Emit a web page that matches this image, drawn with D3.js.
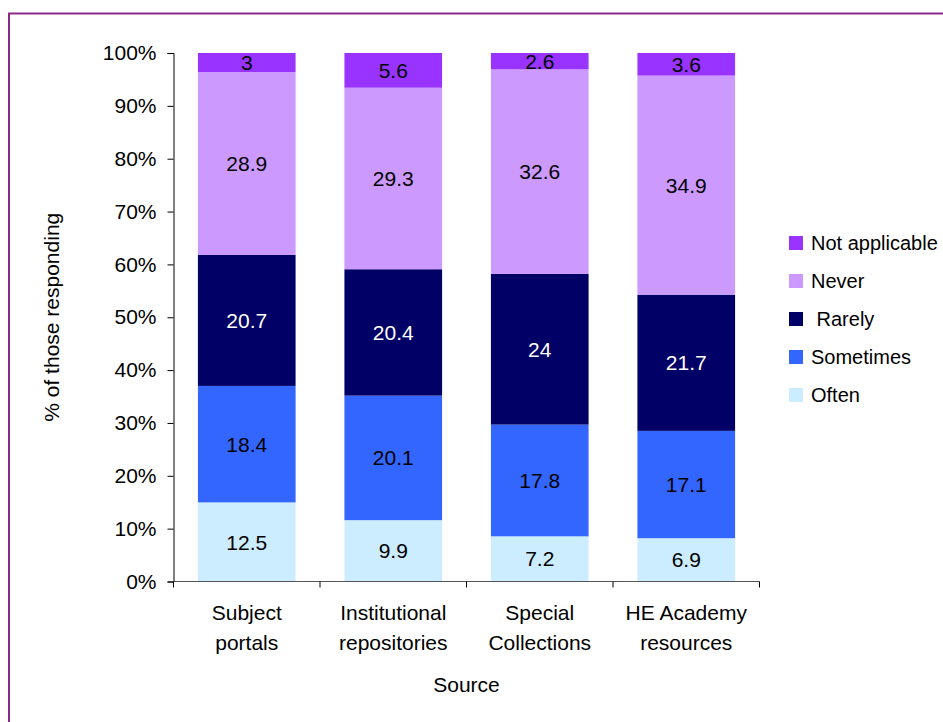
<!DOCTYPE html>
<html>
<head>
<meta charset="utf-8">
<script src="https://cdn.jsdelivr.net/npm/d3@7"></script>
<style>
  html, body { margin: 0; padding: 0; background: #fff; }
  svg { display: block; font-family: "Liberation Sans", Arial, sans-serif; }
</style>
</head>
<body>
<svg id="chart" width="943" height="722"></svg>
<script>
// Sources and response frequencies (% of respondents)
const categories = [
  ["Subject", "portals"],
  ["Institutional", "repositories"],
  ["Special", "Collections"],
  ["HE Academy", "resources"]
];
const seriesNames = ["Often", "Sometimes", "Rarely", "Never", "Not applicable"];
const legendLabels = ["Not applicable", "Never", " Rarely", "Sometimes", "Often"];
const often = [12.5, 9.9, 7.2, 6.9];
const sometimes = [18.4, 20.1, 17.8, 17.1];
const rarely = [20.7, 20.4, 24, 21.7];
const never = [28.9, 29.3, 32.6, 34.9];
const notApplicable = [3, 5.6, 2.6, 3.6];
const yTicks = [0, 0.1, 0.2, 0.3, 0.4, 0.5, 0.6, 0.7, 0.8, 0.9, 1];

const colors = {
  "Often": "#CCECFF",
  "Sometimes": "#3366FF",
  "Rarely": "#000066",
  "Never": "#CC99FF",
  "Not applicable": "#9933FF"
};
const labelColors = { "Rarely": "#ffffff" };

const seriesValues = [often, sometimes, rarely, never, notApplicable];
const rows = categories.map((c, i) => {
  const r = { key: c.join(" ") };
  seriesNames.forEach((s, j) => { r[s] = seriesValues[j][i]; });
  return r;
});

const stacked = d3.stack()
  .keys(seriesNames)
  .offset(d3.stackOffsetExpand)(rows);

const svg = d3.select("#chart");

// Outer frame
svg.append("rect")
  .attr("x", 9).attr("y", 13.5)
  .attr("width", 1000).attr("height", 800)
  .attr("fill", "none")
  .attr("stroke", "#8a2a8a")
  .attr("stroke-width", 2);

const plotLeft = 173.5, plotRight = 759.5, plotTop = 53, plotBottom = 581.5;

const x = d3.scaleBand()
  .domain(rows.map(d => d.key))
  .range([plotLeft, plotRight])
  .paddingInner(1 / 3)
  .paddingOuter(1 / 6);

const y = d3.scaleLinear().domain([0, 1]).range([plotBottom, plotTop]);

// Stacked segments
const layers = svg.append("g").selectAll("g")
  .data(stacked)
  .join("g")
  .attr("fill", d => colors[d.key]);

layers.selectAll("rect")
  .data(d => d)
  .join("rect")
  .attr("x", d => x(d.data.key))
  .attr("width", x.bandwidth())
  .attr("y", d => y(d[1]))
  .attr("height", d => y(d[0]) - y(d[1]));

// Value labels
const labels = svg.append("g")
  .attr("font-size", 21)
  .attr("text-anchor", "middle");
stacked.forEach(layer => {
  labels.selectAll(null)
    .data(layer)
    .join("text")
    .attr("x", d => x(d.data.key) + x.bandwidth() / 2)
    .attr("y", d => (y(d[0]) + y(d[1])) / 2)
    .attr("dy", "0.36em")
    .attr("fill", labelColors[layer.key] || "#000")
    .text(d => d.data[layer.key]);
});

// Y axis
const yAxis = svg.append("g")
  .attr("transform", `translate(${plotLeft},0)`)
  .call(d3.axisLeft(y).tickValues(yTicks).tickFormat(d3.format(".0%")).tickSize(6).tickPadding(11));
yAxis.select(".domain").attr("stroke", "#000");
yAxis.selectAll(".tick line").attr("stroke", "#000");
yAxis.selectAll(".tick text")
  .attr("font-size", 21)
  .attr("font-family", "Liberation Sans, Arial, sans-serif")
  .attr("fill", "#000");

// X axis with boundary ticks between categories
const xg = svg.append("g");
xg.append("line")
  .attr("x1", plotLeft).attr("x2", plotRight)
  .attr("y1", plotBottom).attr("y2", plotBottom)
  .attr("stroke", "#555");
const bounds = rows.map(d => x(d.key) - x.step() * x.paddingInner() / 2)
  .concat([plotRight]);
xg.selectAll(".bt")
  .data(bounds)
  .join("line")
  .attr("x1", d => d).attr("x2", d => d)
  .attr("y1", plotBottom).attr("y2", plotBottom + 6)
  .attr("stroke", "#000");

const catText = xg.selectAll(".cat")
  .data(rows)
  .join("text")
  .attr("text-anchor", "middle")
  .attr("font-size", 21)
  .attr("fill", "#000");
catText.each(function(d, i) {
  const t = d3.select(this);
  const cx = x(d.key) + x.bandwidth() / 2;
  categories[i].forEach((line, k) => {
    t.append("tspan").attr("x", cx).attr("y", 620 + k * 30).text(line);
  });
});

// Axis titles
svg.append("text")
  .attr("x", (plotLeft + plotRight) / 2)
  .attr("y", 692)
  .attr("text-anchor", "middle")
  .attr("font-size", 21)
  .text("Source");

svg.append("text")
  .attr("transform", `translate(59,${(plotTop + plotBottom) / 2}) rotate(-90)`)
  .attr("text-anchor", "middle")
  .attr("font-size", 21)
  .text("% of those responding");

// Legend
const legend = svg.append("g").attr("transform", "translate(789,236)");
const legendItems = legend.selectAll("g")
  .data(legendLabels)
  .join("g")
  .attr("transform", (d, i) => `translate(0,${i * 38})`);
legendItems.append("rect")
  .attr("width", 14).attr("height", 14)
  .attr("fill", d => colors[d.trim()]);
legendItems.append("text")
  .attr("x", 22)
  .attr("y", 14)
  .attr("font-size", 20)
  .style("white-space", "pre")
  .text(d => d);
</script>
</body>
</html>
